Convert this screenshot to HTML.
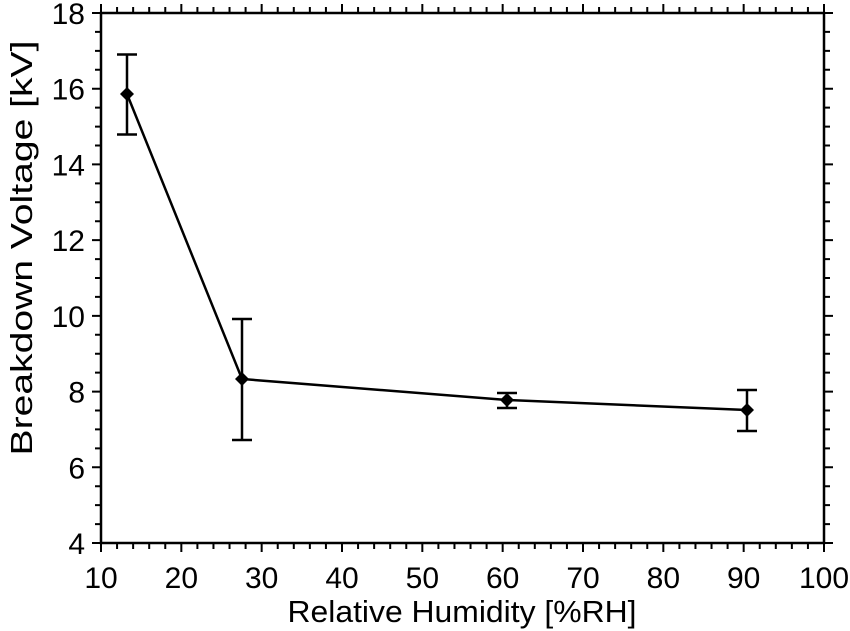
<!DOCTYPE html>
<html><head><meta charset="utf-8"><style>
html,body{margin:0;padding:0;background:#fff;}
svg{display:block;}
text{font-family:"Liberation Sans",Arial,sans-serif;fill:#000;}
</style></head><body>
<svg id="s" width="850" height="631" viewBox="0 0 850 631" xmlns="http://www.w3.org/2000/svg">
<rect x="101" y="13" width="723" height="530" fill="none" stroke="#000" stroke-width="2.5"/>
<g id="ticks" stroke="#000" stroke-width="2"></g>
<g id="labels" font-size="30"></g>
<text x="462" y="622" font-size="31" text-anchor="middle" textLength="349" lengthAdjust="spacingAndGlyphs">Relative Humidity [%RH]</text>
<text transform="translate(32,248) rotate(-90)" font-size="31" text-anchor="middle" textLength="415" lengthAdjust="spacingAndGlyphs">Breakdown Voltage [kV]</text>
<g stroke="#000" stroke-width="2.5" fill="none">
<polyline points="127,94 242,379 507,400 747,410"/>
<line x1="127" y1="54.5" x2="127" y2="134.5"/><line x1="117" y1="54.5" x2="137" y2="54.5"/><line x1="117" y1="134.5" x2="137" y2="134.5"/>
<line x1="242" y1="319" x2="242" y2="440"/><line x1="232" y1="319" x2="252" y2="319"/><line x1="232" y1="440" x2="252" y2="440"/>
<line x1="507" y1="393" x2="507" y2="408"/><line x1="497" y1="393" x2="517" y2="393"/><line x1="497" y1="408" x2="517" y2="408"/>
<line x1="747" y1="390" x2="747" y2="431"/><line x1="737" y1="390" x2="757" y2="390"/><line x1="737" y1="431" x2="757" y2="431"/>
</g>
<g fill="#000">
<polygon points="127,87 134,94 127,101 120,94"/>
<polygon points="242,372 249,379 242,386 235,379"/>
<polygon points="507,393 514,400 507,407 500,400"/>
<polygon points="747,403 754,410 747,417 740,410"/>
</g>
</svg>
<script>
var t=document.getElementById('ticks'),l=document.getElementById('labels'),d='';
function X(v){return 101+(v-10)*723/90;}
function Y(v){return 543-(v-4)*530/14;}
for(var v=10;v<=100.01;v+=2){var x=X(v),maj=Math.abs(v%10)<0.01,L=maj?9:6;
d+='M'+x+' 543v'+L+'M'+x+' 13v-'+L;
if(maj){l.innerHTML+='<text x="'+x+'" y="588" text-anchor="middle">'+v+'</text>';}}
for(var v=4;v<=18.01;v+=0.5){var y=Y(v),maj=Math.abs(v%2)<0.01,L=maj?9:6;
d+='M101 '+y+'h-'+L+'M824 '+y+'h'+L;
if(maj){l.innerHTML+='<text x="85" y="'+(y+11)+'" text-anchor="end">'+v+'</text>';}}
var p=document.createElementNS('http://www.w3.org/2000/svg','path');p.setAttribute('d',d);t.appendChild(p);
document.getElementById('s').appendChild(l);
</script>
</body></html>
